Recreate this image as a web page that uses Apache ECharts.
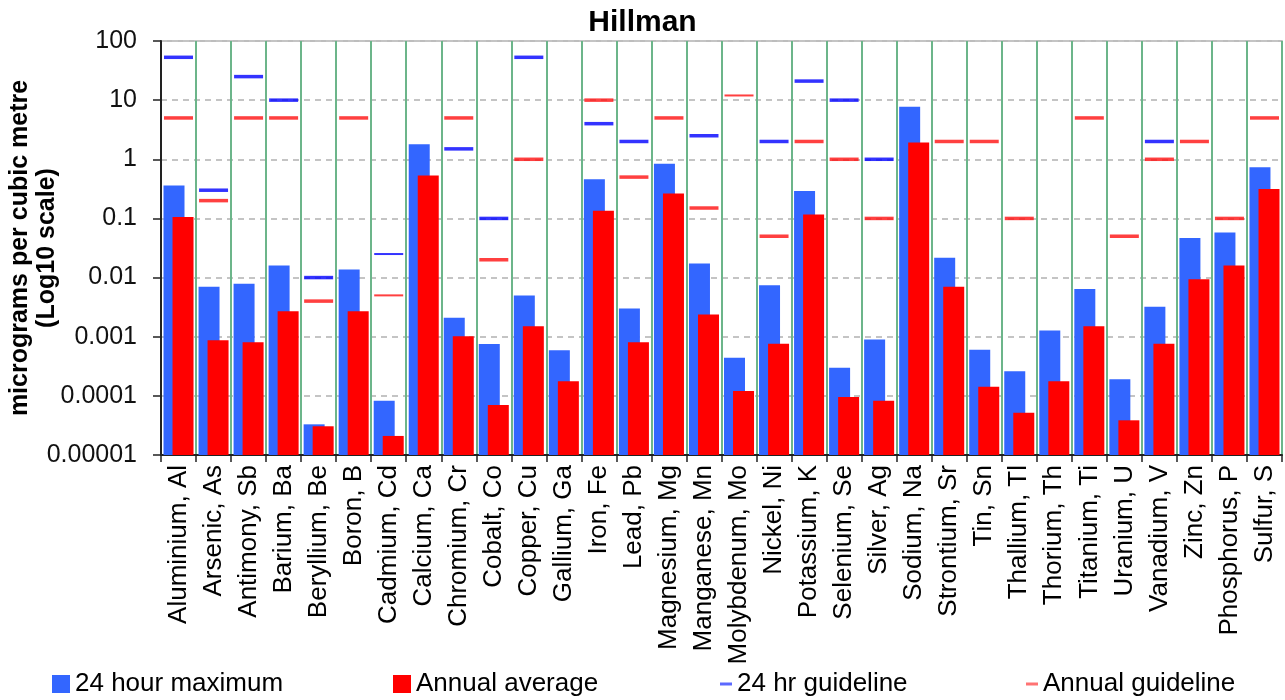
<!DOCTYPE html>
<html>
<head>
<meta charset="utf-8">
<script src="https://cdn.jsdelivr.net/npm/echarts@6/dist/echarts.min.js"></script>
<style>
  html, body { margin: 0; padding: 0; background: #fff; }
  #chart { width: 1285px; height: 700px; }
</style>
</head>
<body>
<div id="chart"></div>
<script>
const categories = ["Aluminium, Al","Arsenic, As","Antimony, Sb","Barium, Ba","Beryllium, Be","Boron, B","Cadmium, Cd","Calcium, Ca","Chromium, Cr","Cobalt, Co","Copper, Cu","Gallium, Ga","Iron, Fe","Lead, Pb","Magnesium, Mg","Manganese, Mn","Molybdenum, Mo","Nickel, Ni","Potassium, K","Selenium, Se","Silver, Ag","Sodium, Na","Strontium, Sr","Tin, Sn","Thallium, Tl","Thorium, Th","Titanium, Ti","Uranium, U","Vanadium, V","Zinc, Zn","Phosphorus, P","Sulfur, S"];

const max24h = [0.36, 0.0070, 0.0079, 0.016, 0.000033, 0.0137, 0.000083, 1.79, 0.0021, 0.00075, 0.0050, 0.00059, 0.46, 0.0030, 0.84, 0.0173, 0.00044, 0.0074, 0.29, 0.00030, 0.00090, 7.7, 0.0216, 0.00060, 0.00026, 0.00127, 0.0064, 0.00019, 0.0032, 0.0465, 0.058, 0.73];

const annualAvg = [0.106, 0.00087, 0.00081, 0.0027, 0.0000306, 0.0027, 0.000021, 0.53, 0.00102, 0.00007, 0.0015, 0.000177, 0.135, 0.00081, 0.265, 0.00237, 0.000121, 0.00076, 0.117, 0.000096, 0.000083, 1.93, 0.0070, 0.000142, 0.000052, 0.000177, 0.0015, 0.0000386, 0.00076, 0.0094, 0.016, 0.313];

const guide24h = [53, 0.3, 25, 10, 0.01, null, 0.025, null, 1.5, 0.1, 53, null, 4, 2, null, 2.5, null, 2, 21, 10, 1, null, null, null, null, null, null, null, 2, null, null, null];

const guideAnnual = [5, 0.2, 5, 5, 0.004, 5, 0.005, null, 5, 0.02, 1, null, 10, 0.5, 5, 0.15, 12, 0.05, 2, 1, 0.1, null, 2, 2, 0.1, null, 5, 0.05, 1, 2, 0.1, 5];

const yTicks = [0.00001, 0.0001, 0.001, 0.01, 0.1, 1, 10, 100];

// style: markers drawn thinner in the reference
const thinIdx24 = [6];
const thinIdxAnnual = [6, 16];

const FONT = "'Liberation Sans', Arial, sans-serif";

function fmt(v) {
  if (v >= 1) return String(Math.round(v));
  const d = Math.round(-Math.log10(v));
  return v.toFixed(d);
}

function markerData(arr, thin) {
  return arr.map((v, i) => {
    if (v == null) return '-';
    return { value: v, symbolSize: [29, thin.indexOf(i) >= 0 ? 2 : 3.5] };
  });
}

const chart = echarts.init(document.getElementById('chart'), null, { renderer: 'canvas' });

const option = {
  animation: false,
  backgroundColor: '#fff',
  title: {
    text: 'Hillman',
    left: 'center',
    top: 3,
    textStyle: { fontFamily: FONT, fontSize: 30, fontWeight: 'bold', color: '#000' }
  },
  legend: [
    { data: [{ name: '24 hour maximum', icon: 'rect' }], left: 52, top: 671, padding: 0, itemWidth: 18, itemHeight: 18,
      textStyle: { fontFamily: FONT, fontSize: 26, color: '#000' } },
    { data: [{ name: 'Annual average', icon: 'rect' }], left: 393, top: 671, padding: 0, itemWidth: 18, itemHeight: 18,
      textStyle: { fontFamily: FONT, fontSize: 26, color: '#000' } },
    { data: [{ name: '24 hr guideline', icon: 'rect', itemStyle: { color: '#3344ff' } }], left: 720, top: 671, padding: 0, itemWidth: 12, itemHeight: 3,
      textStyle: { fontFamily: FONT, fontSize: 26, color: '#000' } },
    { data: [{ name: 'Annual guideline', icon: 'rect', itemStyle: { color: '#ff5050' } }], left: 1026, top: 671, padding: 0, itemWidth: 12, itemHeight: 3,
      textStyle: { fontFamily: FONT, fontSize: 26, color: '#000' } }
  ],
  grid: {
    left: 161, right: 3, top: 41, bottom: 245,
    containLabel: false,
    outerBoundsMode: 'none',
    show: true, borderColor: '#a8a8a8', borderWidth: 1.5, backgroundColor: 'transparent'
  },
  xAxis: {
    type: 'category',
    data: categories,
    boundaryGap: true,
    axisLine: { lineStyle: { color: '#222', width: 2 } },
    axisTick: { show: true, length: 7, alignWithLabel: false, interval: 0, lineStyle: { color: '#222', width: 1.5 } },
    axisLabel: { interval: 0, rotate: 90, margin: 10, fontFamily: FONT, fontSize: 26, color: '#000' },
    splitLine: { show: true, interval: 0, lineStyle: { color: '#6cb58a', width: 2 } }
  },
  yAxis: {
    type: 'log',
    logBase: 10,
    min: yTicks[0],
    max: yTicks[yTicks.length - 1],
    startValue: yTicks[0],
    interval: 1,
    name: 'micrograms per cubic metre\n(Log10 scale)',
    nameLocation: 'middle',
    nameRotate: 90,
    nameGap: 100,
    nameMoveOverlap: false,
    nameTextStyle: { fontFamily: FONT, fontSize: 25, fontWeight: 'bold', color: '#000', lineHeight: 27 },
    axisLine: { show: true, lineStyle: { color: '#222', width: 2 } },
    axisTick: { show: true, length: 8, lineStyle: { color: '#222', width: 1.5 } },
    axisLabel: { margin: 24, fontFamily: FONT, fontSize: 25, color: '#111', formatter: fmt },
    splitLine: { show: true, lineStyle: { color: '#c4c4c4', width: 2, type: [6, 5] } }
  },
  series: [
    {
      name: '24 hour maximum', type: 'bar', data: max24h,
      barWidth: 21, barGap: '-57%',
      itemStyle: { color: '#3366ff' }, z: 2
    },
    {
      name: 'Annual average', type: 'bar', data: annualAvg,
      barWidth: 21, barGap: '-57%',
      itemStyle: { color: '#ff0000' }, z: 3
    },
    {
      name: '24 hr guideline', type: 'scatter', symbol: 'rect',
      data: markerData(guide24h, thinIdx24),
      itemStyle: { color: '#0000ff' }, z: 5
    },
    {
      name: 'Annual guideline', type: 'scatter', symbol: 'rect',
      data: markerData(guideAnnual, thinIdxAnnual),
      itemStyle: { color: '#ff1010' }, z: 5
    }
  ]
};

chart.setOption(option);
</script>
</body>
</html>
